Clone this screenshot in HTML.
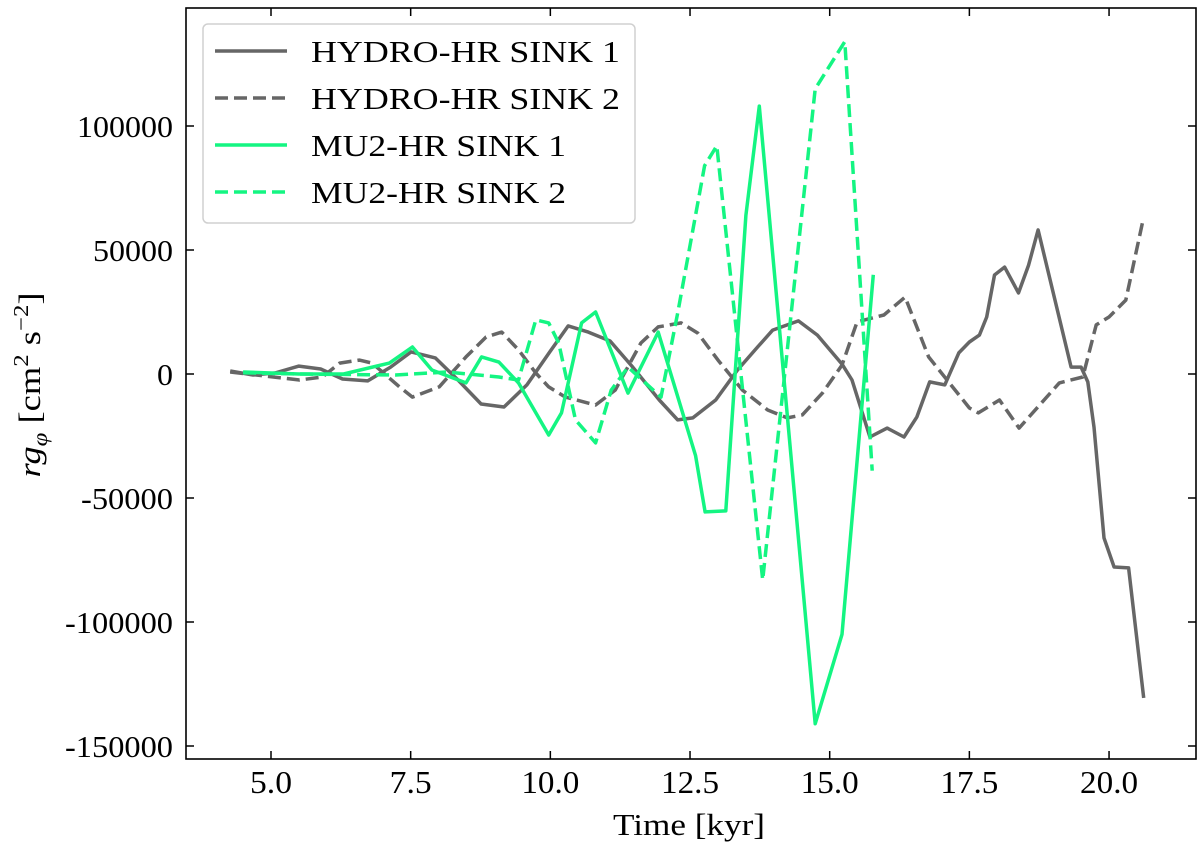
<!DOCTYPE html>
<html><head><meta charset="utf-8"><style>
html,body{margin:0;padding:0;background:#fff;}
svg text{font-family:"Liberation Serif",serif;fill:#000;}
</style></head><body>
<svg id="chart" width="1200" height="851" viewBox="0 0 1200 851" xmlns="http://www.w3.org/2000/svg">
<rect x="0" y="0" width="1200" height="851" fill="#fff"/>
<g id="series"></g>
<g id="axes"></g>
<rect x="186" y="8" width="1010" height="751" fill="none" stroke="#000" stroke-width="1.6"/>
<g>
  <rect x="203" y="24" width="432" height="199" rx="5" fill="#fff" fill-opacity="0.9" stroke="#d0d0d0" stroke-width="1.5"/>
  <g id="legend-entries"></g>
</g>
<text x="689" y="835" font-size="31" text-anchor="middle" textLength="152" lengthAdjust="spacingAndGlyphs">Time [kyr]</text>
<text transform="translate(40,385) rotate(-90)" font-size="31" text-anchor="middle" textLength="185" lengthAdjust="spacingAndGlyphs"><tspan font-style="italic">rg</tspan><tspan font-style="italic" font-size="21" dy="7">φ</tspan><tspan dy="-7"> [cm</tspan><tspan font-size="21" dy="-12">2</tspan><tspan dy="12"> s</tspan><tspan font-size="21" dy="-12">−2</tspan><tspan dy="12">]</tspan></text>
</svg>
<script>
const xTicks = [5.0, 7.5, 10.0, 12.5, 15.0, 17.5, 20.0];
const xTickLabels = ["5.0","7.5","10.0","12.5","15.0","17.5","20.0"];
const yTicks = [100000, 50000, 0, -50000, -100000, -150000];
const yTickLabels = ["100000","50000","0","-50000","-100000","-150000"];

const hydro1T = [4.27,4.68,5.07,5.50,5.89,6.28,6.73,7.14,7.51,7.94,8.33,8.76,9.17,9.58,9.99,10.32,10.68,11.07,11.46,11.95,12.28,12.55,12.96,13.35,13.71,13.98,14.44,14.78,15.22,15.40,15.72,16.03,16.33,16.56,16.79,17.06,17.31,17.50,17.68,17.81,17.95,18.13,18.38,18.56,18.73,19.32,19.50,19.62,19.73,19.91,20.09,20.35,20.62];
const hydro1V = [1200,-400,400,3200,2000,-2000,-2800,2800,8900,6500,-2000,-12100,-13300,-4400,8900,19400,16900,13300,3200,-10500,-18500,-17700,-10500,1600,10900,17700,21400,15700,4000,-2400,-25400,-21800,-25400,-17300,-3200,-4400,8500,12900,15700,23000,39900,43100,32700,43900,58100,2800,2800,-3200,-21400,-66100,-77800,-78200,-130600];

const hydro2T = [4.27,5.51,5.92,6.23,6.58,6.81,7.30,7.53,8.01,8.49,8.85,9.13,9.43,9.74,9.97,10.27,10.81,11.16,11.62,11.93,12.34,12.64,13.00,13.44,13.89,14.24,14.51,14.87,15.22,15.49,15.97,16.35,16.77,17.50,17.66,18.04,18.39,19.11,19.53,19.77,20.00,20.30,20.60];
const hydro2V = [800,-2400,-1200,4400,5600,4400,-5200,-9300,-5200,6900,14900,16900,9700,400,-5200,-9300,-12500,-6500,12500,19000,20600,16500,5600,-6500,-14500,-17700,-16500,-7700,3600,21000,23800,31000,6900,-13700,-15700,-10500,-21800,-3600,-1200,19800,23000,29800,61300];

const mu1T = [4.50,5.50,6.30,7.12,7.53,7.88,8.49,8.77,9.08,9.43,9.97,10.20,10.56,10.81,11.39,11.93,12.60,12.77,13.14,13.50,13.74,14.74,15.22,15.78];
const mu1V = [800,0,0,4400,10900,1600,-3600,6900,4800,-3600,-24600,-15700,20600,25000,-7700,16900,-33000,-55600,-55200,64000,108000,-141000,-105000,40000];

const mu2T = [4.50,5.50,7.23,8.15,9.08,9.43,9.74,9.97,10.15,10.45,10.81,11.09,11.39,11.98,12.28,12.76,12.98,13.80,14.74,15.27,15.76];
const mu2V = [500,0,-400,800,-1200,-2400,21800,20600,12500,-18500,-27800,-6500,2800,-9300,24600,84000,92000,-83000,115000,134000,-39000];

const legendLabels = ["HYDRO-HR SINK 1","HYDRO-HR SINK 2","MU2-HR SINK 1","MU2-HR SINK 2"];

const NS = "http://www.w3.org/2000/svg";
function xs(t){ return 271 + (t - 5) * 55.87; }
function ys(v){ return 374 - v / 403.2; }
const GRAY = "#666666", GREEN = "#14f582";
const styles = [
  {c:GRAY, d:null, name:"line-hydro-sink-1"},
  {c:GRAY, d:"13,6", name:"line-hydro-sink-2"},
  {c:GREEN, d:null, name:"line-mu2-sink-1"},
  {c:GREEN, d:"13,6", name:"line-mu2-sink-2"}
];
const seriesT = [hydro1T, hydro2T, mu1T, mu2T];
const seriesV = [hydro1V, hydro2V, mu1V, mu2V];

const sg = document.getElementById("series");
for (let s = 0; s < 4; s++) {
  const p = document.createElementNS(NS, "path");
  let d = "";
  for (let i = 0; i < seriesT[s].length; i++) d += (i ? "L" : "M") + xs(seriesT[s][i]).toFixed(1) + "," + ys(seriesV[s][i]).toFixed(1);
  p.setAttribute("d", d);
  p.setAttribute("fill", "none");
  p.setAttribute("stroke", styles[s].c);
  p.setAttribute("stroke-width", "3.5");
  p.setAttribute("stroke-linejoin", "round");
  if (styles[s].d) p.setAttribute("stroke-dasharray", styles[s].d);
  
  
  sg.appendChild(p);
}

const ag = document.getElementById("axes");
for (let i = 0; i < xTicks.length; i++) {
  const x = xs(xTicks[i]);
  const t1 = document.createElementNS(NS, "path");
  t1.setAttribute("d", "M" + x + ",759V751M" + x + ",8V16");
  t1.setAttribute("stroke", "#000"); t1.setAttribute("stroke-width", "1.5");
  
  
  ag.appendChild(t1);
  const tx = document.createElementNS(NS, "text");
  tx.setAttribute("x", x); tx.setAttribute("y", 793);
  tx.setAttribute("font-size", "32"); tx.setAttribute("text-anchor", "middle");
  tx.setAttribute("textLength", String(xTickLabels[i].length === 3 ? 42 : 58));
  tx.setAttribute("lengthAdjust", "spacingAndGlyphs");
  tx.textContent = xTickLabels[i];
  
  
  ag.appendChild(tx);
}
for (let i = 0; i < yTicks.length; i++) {
  const y = ys(yTicks[i]);
  const t1 = document.createElementNS(NS, "path");
  t1.setAttribute("d", "M186," + y + "H194M1196," + y + "H1188");
  t1.setAttribute("stroke", "#000"); t1.setAttribute("stroke-width", "1.5");
  
  
  ag.appendChild(t1);
  const tx = document.createElementNS(NS, "text");
  tx.setAttribute("x", 173); tx.setAttribute("y", y + 11);
  tx.setAttribute("font-size", "31"); tx.setAttribute("text-anchor", "end");
  tx.setAttribute("textLength", String(yTickLabels[i].replace("-","").length * 16 + (yTickLabels[i][0] === "-" ? 12 : 0)));
  tx.setAttribute("lengthAdjust", "spacingAndGlyphs");
  tx.textContent = yTickLabels[i];
  
  
  ag.appendChild(tx);
}

const lg = document.getElementById("legend-entries");
const rowY = [51, 98, 145, 192];
const textW = [309, 309, 255, 255];
for (let i = 0; i < 4; i++) {
  const g = document.createElementNS(NS, "g");
  
  
  const l = document.createElementNS(NS, "path");
  l.setAttribute("d", "M215," + rowY[i] + "H287");
  l.setAttribute("stroke", styles[i].c); l.setAttribute("stroke-width", "3.5");
  if (styles[i].d) l.setAttribute("stroke-dasharray", styles[i].d);
  
  
  g.appendChild(l);
  const tx = document.createElementNS(NS, "text");
  tx.setAttribute("x", 311); tx.setAttribute("y", rowY[i] + 11);
  tx.setAttribute("font-size", "31");
  tx.setAttribute("textLength", textW[i]); tx.setAttribute("lengthAdjust", "spacingAndGlyphs");
  tx.textContent = legendLabels[i];
  
  
  g.appendChild(tx);
  lg.appendChild(g);
}
</script>
</body></html>
